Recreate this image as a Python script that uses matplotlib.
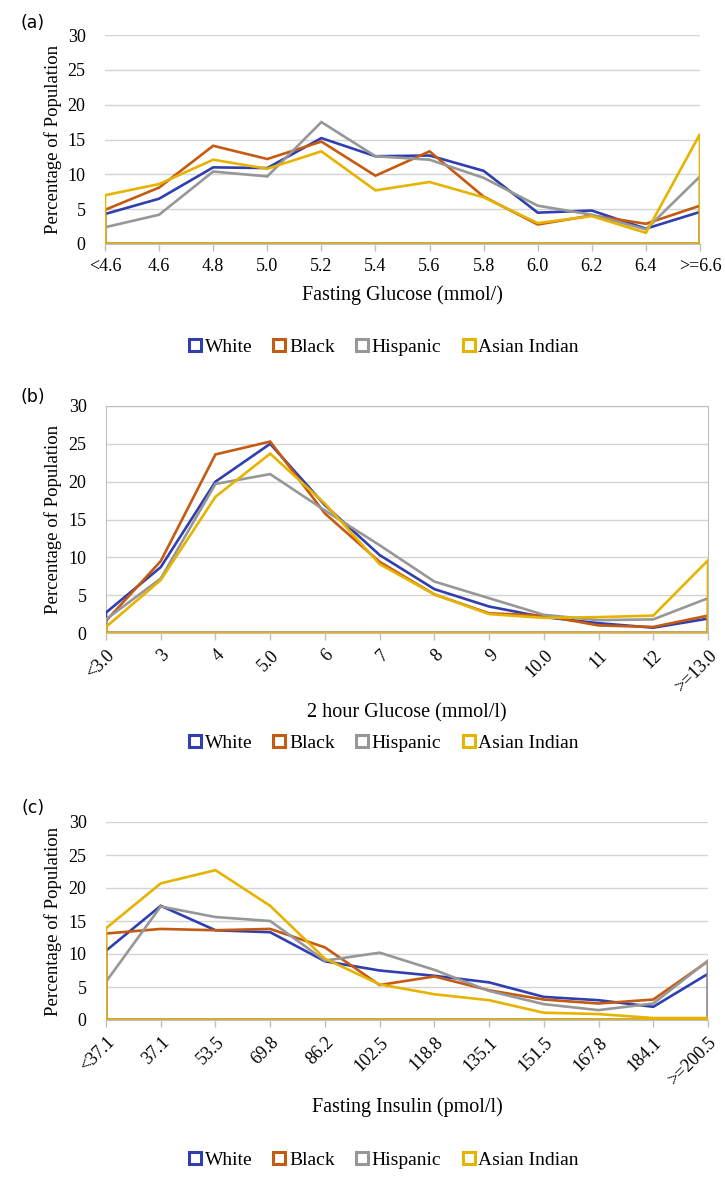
import numpy as np
import matplotlib
matplotlib.use('Agg')
import matplotlib.pyplot as plt
from matplotlib.lines import Line2D

plt.rcParams['font.family'] = ['Liberation Serif', 'DejaVu Serif']

series = ['White', 'Black', 'Hispanic', 'Asian Indian']
colors = ['#2F3FB0', '#C55A11', '#979797', '#E6B400']

# (a) fasting glucose
cats_a = ['<4.6', '4.6', '4.8', '5.0', '5.2', '5.4', '5.6', '5.8', '6.0', '6.2', '6.4', '>=6.6']
white_a = [4.3, 6.5, 11.0, 10.9, 15.2, 12.6, 12.7, 10.5, 4.5, 4.8, 2.2, 4.6]
black_a = [4.9, 8.1, 14.1, 12.2, 14.7, 9.8, 13.3, 6.8, 2.8, 4.1, 2.9, 5.5]
hisp_a = [2.4, 4.2, 10.4, 9.7, 17.5, 12.6, 12.1, 9.5, 5.5, 4.2, 2.1, 9.7]
asian_a = [7.0, 8.6, 12.1, 10.8, 13.3, 7.7, 8.9, 6.7, 3.0, 4.0, 1.6, 15.8]

# (b) 2 hour glucose
cats_b = ['<3.0', '3', '4', '5.0', '6', '7', '8', '9', '10.0', '11', '12', '>=13.0']
white_b = [2.7, 8.7, 20.0, 25.0, 16.9, 10.3, 5.8, 3.5, 2.1, 1.3, 0.7, 1.9]
black_b = [1.6, 9.5, 23.6, 25.3, 15.8, 9.4, 5.1, 2.6, 2.3, 1.0, 0.8, 2.3]
hisp_b = [1.8, 7.2, 19.7, 21.0, 16.2, 11.6, 6.8, 4.6, 2.4, 1.7, 1.8, 4.6]
asian_b = [0.8, 7.0, 18.0, 23.7, 17.1, 9.1, 5.1, 2.5, 2.0, 2.1, 2.3, 9.6]

# (c) fasting insulin
cats_c = ['<37.1', '37.1', '53.5', '69.8', '86.2', '102.5', '118.8', '135.1',
          '151.5', '167.8', '184.1', '>=200.5']
white_c = [10.5, 17.3, 13.6, 13.3, 8.9, 7.5, 6.7, 5.7, 3.5, 3.0, 2.0, 7.0]
black_c = [13.1, 13.8, 13.6, 13.8, 11.0, 5.3, 6.6, 4.5, 3.1, 2.5, 3.1, 8.9]
hisp_c = [5.8, 17.2, 15.6, 15.0, 9.0, 10.2, 7.6, 4.4, 2.4, 1.5, 2.5, 9.0]
asian_c = [13.9, 20.7, 22.7, 17.3, 9.3, 5.4, 3.9, 3.0, 1.1, 0.9, 0.3, 0.3]

panels = [
    ('(a)', cats_a, [white_a, black_a, hisp_a, asian_a], 'Fasting Glucose (mmol/)', 0, False),
    ('(b)', cats_b, [white_b, black_b, hisp_b, asian_b], '2 hour Glucose (mmol/l)', 45, True),
    ('(c)', cats_c, [white_c, black_c, hisp_c, asian_c], 'Fasting Insulin (pmol/l)', 45, False),
]

W, H = 725, 1177
fig = plt.figure(figsize=(W / 100, H / 100), dpi=100)

# pixel boxes: left, right, top, bottom ; letter y ; xlabel y ; legend y
boxes = [
    (105, 700, 35, 244, 23, 295, 347),
    (106, 708, 406, 633, 397, 713, 743),
    (106, 708, 822, 1020, 808, 1107, 1160),
]

for (letter, cats, vals, xlabel, rot, framed), (l, r, t, b, ly, xly, lgy) in zip(panels, boxes):
    ax = fig.add_axes([l / W, 1 - b / H, (r - l) / W, (b - t) / H])
    x = np.arange(len(cats))
    for v, c in zip(vals, colors):
        # excel area chart with no fill: closed outline
        ax.fill(np.r_[x, x[::-1]], np.r_[v, np.zeros(len(v))], facecolor='none',
                edgecolor=c, lw=1.9, zorder=3)
    ax.set_xlim(0, len(cats) - 1)
    ax.set_ylim(0, 30)
    ax.set_yticks(range(0, 31, 5))
    ax.yaxis.grid(True, color='#D4D4D4', lw=1.0)
    ax.set_axisbelow(True)
    ax.set_xticks(x)
    if rot:
        ax.set_xticklabels(cats, rotation=rot, ha='right', rotation_mode='anchor')
    else:
        ax.set_xticklabels(cats)
    ax.tick_params(axis='y', length=0, pad=14, labelsize=13)
    ax.tick_params(axis='x', length=5, color='#BFBFBF', width=1, pad=5, labelsize=13)
    for s in ['top', 'right', 'left']:
        ax.spines[s].set_visible(framed)
        ax.spines[s].set_color('#BFBFBF')
    ax.spines['bottom'].set_color('#BFBFBF')
    ax.set_ylabel('Percentage of Population', fontsize=13.5)
    ax.yaxis.set_label_coords(-(l - 62) / (r - l), 0.5)
    fig.text(33 / W, 1 - ly / H, letter, family='DejaVu Sans', fontsize=12.5,
             ha='center', va='center')
    fig.text((l + r) / 2 / W, 1 - xly / H, xlabel, fontsize=14.5, ha='center', va='center')
    handles = [Line2D([], [], marker='s', ls='none', mfc='white', mec=c, mew=2.2,
                      markersize=8.5) for c in colors]
    fig.legend(handles, series, loc='center', bbox_to_anchor=(382 / W, 1 - lgy / H),
               ncol=4, frameon=False, fontsize=14, handletextpad=0.0,
               columnspacing=0.9, handlelength=1.0)

fig.savefig('out.png', dpi=100)
